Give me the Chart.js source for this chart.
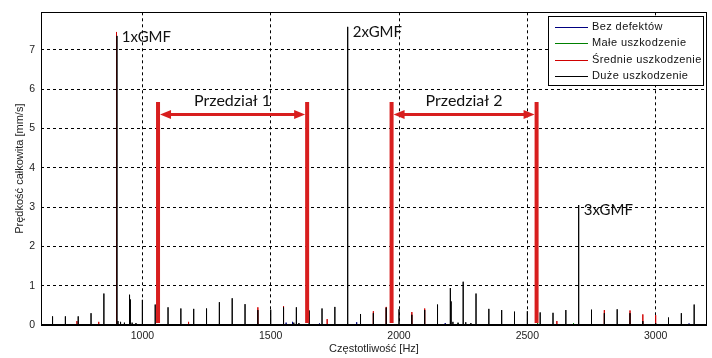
<!DOCTYPE html>
<html>
<head>
<meta charset="utf-8">
<script src="https://cdn.jsdelivr.net/npm/chart.js@4/dist/chart.umd.min.js"></script>
<style>
  html, body { margin: 0; padding: 0; background: #fff; }
  #wrap { width: 712px; height: 358px; }
</style>
</head>
<body>
<div id="wrap"><canvas id="widmo" width="712" height="358"></canvas></div>
<script>
// === Dane ===
const freqMin = 605;
const freqMax = 3200;
const yMax = 7.95;
const xTicks = [1000, 1500, 2000, 2500, 3000];
const yTicks = [0, 1, 2, 3, 4, 5, 6, 7];

// Duże uszkodzenie (czarny)
const duzeFreq = [650, 700, 750, 800, 850, 901, 905, 915, 930, 950, 953, 960, 975, 1000, 1050, 1100, 1150, 1200, 1250,
  1300, 1350, 1400, 1450, 1500, 1550, 1590, 1600, 1610, 1650, 1700, 1750, 1800, 1850, 1900, 1950, 2000, 2050,
  2100, 2150, 2200, 2203, 2210, 2230, 2250, 2260, 2280, 2300, 2350, 2400, 2450, 2500, 2550, 2600, 2650, 2700,
  2750, 2800, 2850, 2900, 2950, 3000, 3050, 3100, 3150];
const duzeAmp = [0.22, 0.22, 0.22, 0.30, 0.80, 7.35, 0.10, 0.08, 0.06, 0.77, 0.65, 0.06, 0.05, 0.64, 0.52, 0.45, 0.42, 0.41, 0.42,
  0.58, 0.68, 0.53, 0.38, 0.39, 0.45, 0.06, 0.45, 0.05, 0.37, 0.42, 0.46, 7.58, 0.28, 0.30, 0.44, 0.40, 0.26,
  0.38, 0.52, 0.94, 0.60, 0.08, 0.06, 1.10, 0.07, 0.05, 0.80, 0.41, 0.38, 0.34, 0.35, 0.32, 0.31, 0.38, 3.05,
  0.39, 0.30, 0.40, 0.30, 0.10, 0.05, 0.19, 0.30, 0.52];

// Średnie uszkodzenie (czerwony)
const srednieFreq = [745, 830, 898, 900, 1180, 1450, 1550, 1720, 1900, 1950, 2050, 2100, 2615, 2800, 2900, 2950, 3000];
const srednieAmp = [0.10, 0.08, 5.10, 7.45, 0.08, 0.45, 0.48, 0.15, 0.35, 0.46, 0.33, 0.42, 0.10, 0.38, 0.37, 0.27, 0.25];

// Małe uszkodzenie (zielony)
const maleFreq = [2230, 2540, 2680];
const maleAmp = [0.04, 0.05, 0.05];

// Bez defektów (granatowy)
const bezFreq = [1560, 1585, 1690, 1835, 2180, 3130];
const bezAmp = [0.06, 0.08, 0.04, 0.07, 0.05, 0.04];

// Adnotacje
const gmfFreq = [900, 1800, 2700];
const gmfLabels = ["1xGMF", "2xGMF", "3xGMF"];
const gmfTop = [7.45, 7.58, 3.05];
const przedzialOd = [1061, 1971];
const przedzialDo = [1642, 2536];
const przedzialLabels = ["Przedział 1", "Przedział 2"];
const przedzialTop = 5.67;
const strzalkaPoziom = 5.35;

// === Budowa linii widma z prążków ===
function widmo(freqs, amps) {
    const pts = [{ x: freqMin, y: 0 }];
    freqs.forEach((f, i) => {
        pts.push({ x: f, y: 0 }, { x: f, y: amps[i] }, { x: f, y: 0 });
    });
    pts.push({ x: freqMax, y: 0 });
    return pts;
}

const czerwony = "#d81e1e";

const adnotacje = {
    id: "adnotacje",
    afterDatasetsDraw(chart) {
        const ctx = chart.ctx;
        const xs = chart.scales.x, ys = chart.scales.y;
        ctx.save();
        // przedziały
        przedzialOd.forEach((od, i) => {
            const x1 = xs.getPixelForValue(od);
            const x2 = xs.getPixelForValue(przedzialDo[i]);
            const yTop = ys.getPixelForValue(przedzialTop);
            const yBot = ys.getPixelForValue(0.05);
            const yA = ys.getPixelForValue(strzalkaPoziom);
            ctx.strokeStyle = czerwony;
            ctx.fillStyle = czerwony;
            ctx.lineWidth = 4;
            ctx.beginPath();
            ctx.moveTo(x1, yTop); ctx.lineTo(x1, yBot);
            ctx.moveTo(x2, yTop); ctx.lineTo(x2, yBot);
            ctx.stroke();
            ctx.lineWidth = 3;
            ctx.beginPath();
            ctx.moveTo(x1 + 8, yA); ctx.lineTo(x2 - 8, yA);
            ctx.stroke();
            // groty strzałek
            ctx.beginPath();
            ctx.moveTo(x1 + 2, yA); ctx.lineTo(x1 + 13, yA - 4.5); ctx.lineTo(x1 + 13, yA + 4.5); ctx.closePath();
            ctx.moveTo(x2 - 2, yA); ctx.lineTo(x2 - 13, yA - 4.5); ctx.lineTo(x2 - 13, yA + 4.5); ctx.closePath();
            ctx.fill();
            ctx.fillStyle = "#111";
            ctx.font = "16px Lato";
            ctx.textAlign = "center";
            ctx.textBaseline = "alphabetic";
            ctx.fillText(przedzialLabels[i], (x1 + x2) / 2, yA - 9);
        });
        // opisy GMF
        ctx.fillStyle = "#111";
        ctx.font = "15px Lato";
        ctx.textAlign = "left";
        ctx.textBaseline = "top";
        gmfFreq.forEach((f, i) => {
            const x = xs.getPixelForValue(f);
            const y = ys.getPixelForValue(gmfTop[i]);
            ctx.fillText(gmfLabels[i], x + 5, y - 2);
        });
        ctx.restore();
    },
    afterDraw(chart) {
        const ctx = chart.ctx;
        const a = chart.chartArea;
        ctx.save();
        // ramka
        ctx.strokeStyle = "#000";
        ctx.lineWidth = 1;
        ctx.strokeRect(Math.round(a.left) + 0.5, Math.round(a.top) + 0.5,
            Math.round(a.right - a.left) - 1, Math.round(a.bottom - a.top));
        ctx.lineWidth = 2;
        ctx.beginPath();
        ctx.moveTo(a.left, a.bottom); ctx.lineTo(a.right, a.bottom);
        ctx.stroke();
        // legenda
        const lx = 548.5, ly = 16.5, lw = 155, lh = 69;
        ctx.fillStyle = "#fff";
        ctx.fillRect(lx, ly, lw, lh);
        ctx.lineWidth = 1;
        ctx.strokeRect(lx, ly, lw, lh);
        ctx.font = "11px 'Liberation Sans'";
        ctx.letterSpacing = "0.4px";
        ctx.textBaseline = "middle";
        ctx.textAlign = "left";
        chart.data.datasets.forEach((ds, i) => {
            const y = 27 + i * 16.4;
            ctx.strokeStyle = ds.borderColor;
            ctx.beginPath();
            ctx.moveTo(555, Math.round(y) + 0.5); ctx.lineTo(588, Math.round(y) + 0.5);
            ctx.stroke();
            ctx.fillStyle = "#111";
            ctx.fillText(ds.label, 592, y);
        });
        ctx.restore();
    }
};

function linia(label, color, order, freqs, amps) {
    return {
        label: label,
        data: widmo(freqs, amps),
        borderColor: color,
        borderWidth: 1,
        pointRadius: 0,
        tension: 0,
        fill: false,
        order: order
    };
}

const fontOsi = { family: "'Liberation Sans', Arial", size: 10.5 };

new Chart(document.getElementById("widmo"), {
    type: "line",
    data: {
        datasets: [
            linia("Bez defektów", "#000080", 3, bezFreq, bezAmp),
            linia("Małe uszkodzenie", "#008000", 2, maleFreq, maleAmp),
            linia("Średnie uszkodzenie", "#d00000", 1, srednieFreq, srednieAmp),
            linia("Duże uszkodzenie", "#000000", 0, duzeFreq, duzeAmp)
        ]
    },
    options: {
        responsive: false,
        animation: false,
        layout: { padding: { top: 10, right: 5, left: 0, bottom: 0 } },
        plugins: {
            legend: { display: false },
            tooltip: { enabled: false }
        },
        scales: {
            x: {
                type: "linear",
                min: freqMin,
                max: freqMax,
                afterBuildTicks: (s) => { s.ticks = xTicks.map(v => ({ value: v })); },
                afterFit: (s) => { s.height = 33; },
                ticks: { color: "#222", font: fontOsi, padding: 5, maxRotation: 0, callback: (v) => String(v) },
                grid: { color: "#000", lineWidth: 1, drawTicks: false },
                border: { display: false, dash: [3, 3] },
                title: {
                    display: true,
                    text: "Częstotliwość [Hz]",
                    color: "#222",
                    font: { family: "'Liberation Sans', Arial", size: 11 },
                    padding: { top: 0, bottom: 2 }
                }
            },
            y: {
                min: 0,
                max: yMax,
                afterBuildTicks: (s) => { s.ticks = yTicks.map(v => ({ value: v })); },
                afterFit: (s) => { s.width = 41; },
                ticks: { color: "#222", font: fontOsi, padding: 6, callback: (v) => String(v) },
                grid: { color: "#000", lineWidth: 1, drawTicks: false },
                border: { display: false, dash: [3, 3] },
                title: {
                    display: true,
                    text: "Prędkość całkowita [mm/s]",
                    color: "#222",
                    font: { family: "'Liberation Sans', Arial", size: 11 },
                    padding: { top: 13, bottom: 0 }
                }
            }
        }
    },
    plugins: [adnotacje]
});
</script>
</body>
</html>
